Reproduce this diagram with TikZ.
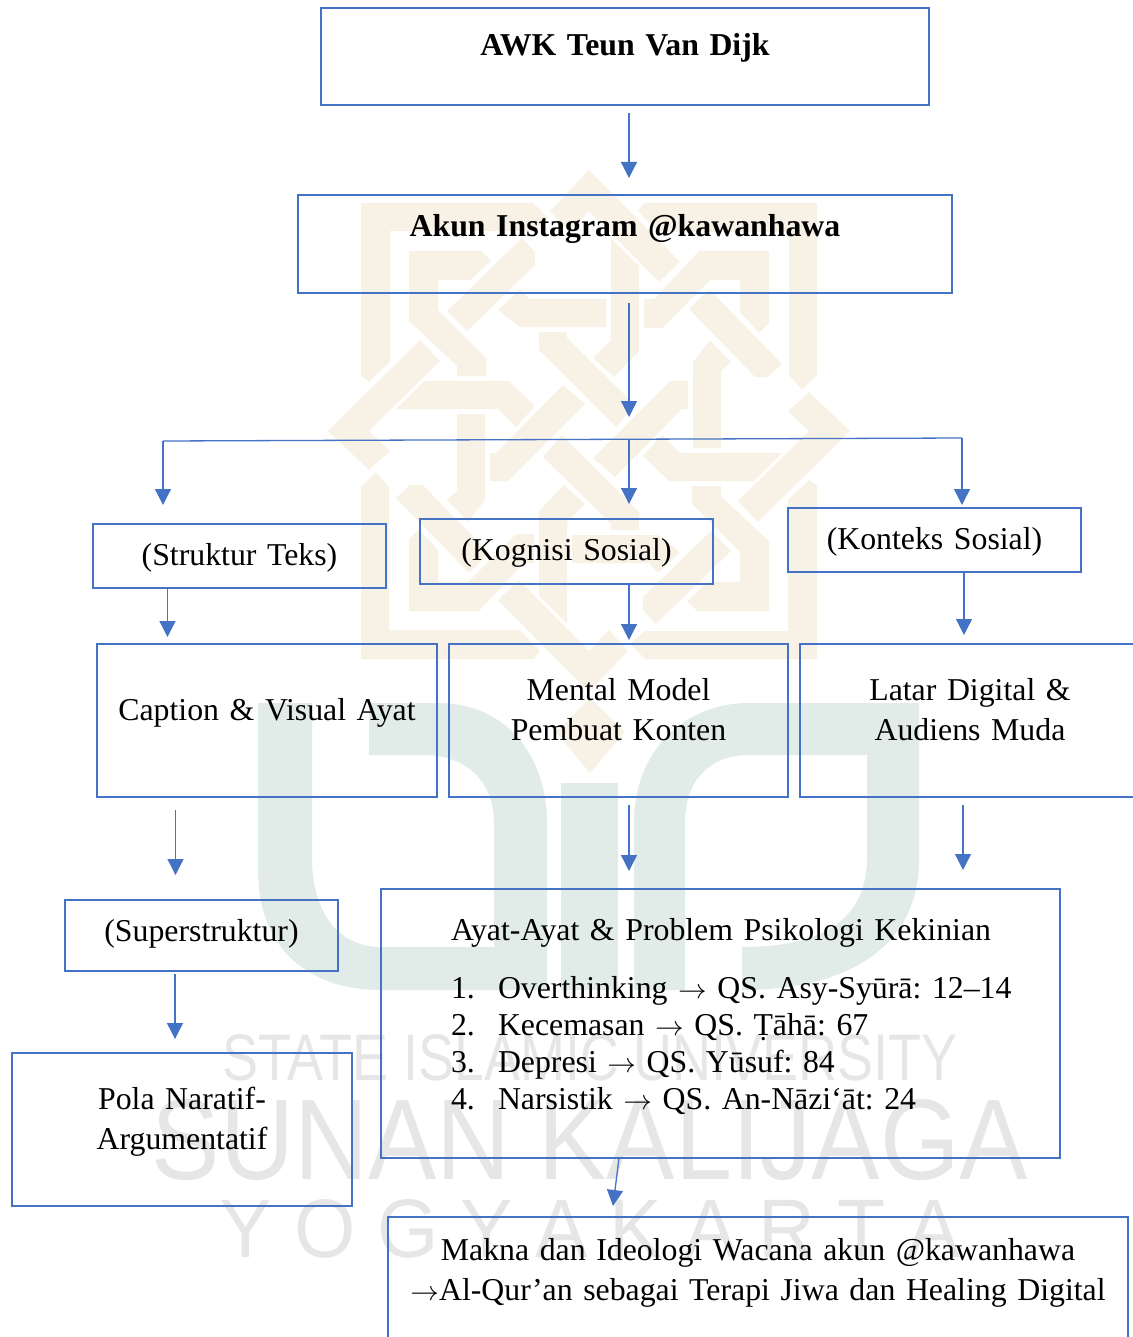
\documentclass[tikz,border=0pt]{standalone}
\usepackage{fontspec}
\usepackage{graphicx}
\setmainfont{Liberation Serif}[WordSpace=0.78]
\newfontfamily\wmfont{Liberation Sans}
\frenchspacing
\usetikzlibrary{arrows.meta}
\definecolor{boxblue}{HTML}{4472C4}
\definecolor{ornament}{HTML}{F8F2E6}
\definecolor{uingreen}{HTML}{E1EBE7}
\definecolor{wmgrey}{HTML}{E6E6E6}
\tikzset{
	flowbox/.style n args={3}{draw=boxblue,line width=2.8pt,inner sep=0pt,outer sep=0pt,anchor=north west,
		text width=#1,text height=#3,text depth=#2-#3,align=center,
		font=\fontsize{31.8}{40}\selectfont},
	flow/.style={draw=boxblue,line width=1.3pt,-{Triangle[width=16pt,length=16pt,fill=boxblue]}},
	hubline/.style={draw=boxblue,line width=1.3pt},
	wmtext/.style={text=wmgrey,inner sep=0pt,font=\wmfont}
}
\newcommand{\ayatitem}[2]{\hspace*{70pt}\makebox[47pt][l]{#1}#2}
\newcommand{\toarrow}{\scalebox{1.15}[1.1]{$\rightarrow$}}
\begin{document}
\begin{tikzpicture}[x=1pt,y=-1pt]
	\useasboundingbox (0,0) rectangle (1132,1337);
	% watermark
	\foreach \ang in {0,90,180,270} {
		\begin{scope}[shift={(589,431)},rotate=\ang]
			\fill[ornament] (0,-261) -- (91,-169) -- (70,-149) -- (0,-220) -- (-20,-199) -- (-39,-220) -- cycle;
			\fill[ornament] (22,-193) -- (50,-165) -- (50,-80) -- (25,-54) -- (4,-73) -- (22,-91) -- cycle;
			\fill[ornament] (-228,-228) -- (-56,-228) -- (-41,-213) -- (-56,-200) -- (-199,-200) -- (-199,-69) -- (-220,-49) -- (-228,-55) -- cycle;
			\fill[ornament] (-180,-180) -- (-108,-180) -- (-98,-170) -- (-119,-151) -- (-151,-151) -- (-151,-121) -- (-103,-73) -- (-103,-55) -- (-132,-55) -- (-132,-65) -- (-180,-110) -- cycle;
			\fill[ornament] (-142,-120) -- (-67,-193) -- (-54,-179) -- (-54,-166) -- (-122,-100) -- cycle;
			\fill[ornament] (-91,-121) -- (-69,-142) -- (-60,-132) -- (17,-132) -- (17,-104) -- (-69,-104) -- cycle;
			\fill[ornament] (-50,-99) -- (-22,-99) -- (-22,-93) -- (46,-26) -- (27,-4) -- (-50,-81) -- cycle;
		\end{scope}
	}
	\fill[ornament] (590,698) -- (625,732) -- (590,773) -- (556,732) -- cycle;
	\fill[uingreen] (369,703) -- (437,703) .. controls (510,703) and (547,760) .. (547,823) -- (547,990) -- (381,990)
		.. controls (310,990) and (258,950) .. (258,870) -- (258,703) -- (312,703) -- (312,857)
		.. controls (312,915) and (340,947) .. (381,947) -- (494,947) -- (494,823)
		.. controls (494,780) and (465,755) .. (423,755) -- (369,755) -- cycle;
	\fill[uingreen] (561,783) -- (618,783) -- (618,990) -- (561,990) -- cycle;
	\fill[uingreen] (634,990) -- (634,823) .. controls (634,750) and (685,703) .. (749,703) -- (919,703) -- (919,860)
		.. controls (919,945) and (850,990) .. (742,990) -- (742,947) .. controls (830,947) and (867,915) .. (867,857)
		-- (867,755) -- (749,755) .. controls (710,755) and (685,780) .. (685,823) -- (685,990) -- cycle;
	\node[wmtext] (wmstate) at (590,1058) {\resizebox{735pt}{46pt}{STATE ISLAMIC UNIVERSITY}};
	\node[wmtext] (wmsunan) at (590,1140) {\resizebox{876pt}{80pt}{SUNAN KALIJAGA}};
	\node[wmtext] (wmyogya) at (590,1229) {\resizebox{740pt}{58pt}{Y O G Y A K A R T A}};

	% boxes
	\node[flowbox={608pt}{97pt}{48pt}] (awk) at (321,8) {\textbf{AWK Teun Van Dijk}};
	\node[flowbox={654pt}{98pt}{42pt}] (akun) at (298,195) {\textbf{Akun Instagram @kawanhawa}};
	\node[flowbox={293pt}{64pt}{41pt}] (struktur) at (93,524) {(Struktur Teks)};
	\node[flowbox={293pt}{65pt}{41pt}] (kognisi) at (420,519) {(Kognisi Sosial)};
	\node[flowbox={293pt}{64pt}{41pt}] (konteks) at (788,508) {(Konteks Sosial)};
	\node[flowbox={340pt}{153pt}{76pt}] (caption) at (97,644) {Caption \& Visual Ayat};
	\node[flowbox={339pt}{153pt}{56pt}] (mental) at (449,644) {Mental Model\\Pembuat Konten};
	\node[flowbox={340pt}{153pt}{56pt}] (latar) at (800,644) {Latar Digital \&\\Audiens Muda};
	\node[flowbox={273pt}{71pt}{41pt}] (super) at (65,900) {(Superstruktur)};
	\node[flowbox={679pt}{269pt}{51pt},align=left] (ayat) at (381,889) {\hspace*{70pt}Ayat-Ayat \& Problem Psikologi Kekinian\\[18pt]
		\ayatitem{1.}{Overthinking \toarrow{} QS. Asy-Syūrā: 12–14}\\[-3pt]
		\ayatitem{2.}{Kecemasan \toarrow{} QS. Ṭāhā: 67}\\[-3pt]
		\ayatitem{3.}{Depresi \toarrow{} QS. Yūsuf: 84}\\[-3pt]
		\ayatitem{4.}{Narsistik \toarrow{} QS. An-Nāzi‘āt: 24}};
	\node[flowbox={340pt}{153pt}{56pt}] (pola) at (12,1053) {Pola Naratif-\\Argumentatif};
	\node[flowbox={740pt}{130pt}{43pt}] (makna) at (388,1217) {Makna dan Ideologi Wacana akun @kawanhawa\\\toarrow{}Al-Qur’an sebagai Terapi Jiwa dan Healing Digital};

	% connectors
	\coordinate (hubL) at (163,441);
	\coordinate (hubM) at (629,440);
	\coordinate (hubR) at (962,438);
	\draw[flow] ([xshift=4pt,yshift=-8pt]awk.south) -- ([xshift=4pt,yshift=17pt]akun.north);
	\draw[flow] ([xshift=4pt,yshift=-10pt]akun.south) -- ([yshift=23pt]hubM);
	\draw[hubline] (hubL) -- (hubR);
	\draw[flow,shorten >=19pt] (hubL) -- (hubL |- struktur.north);
	\draw[flow,shorten >=15pt] (hubM) -- (hubM |- kognisi.north);
	\draw[flow,shorten >=3pt] (hubR) -- (hubR |- konteks.north);
	\draw[flow] ([xshift=-72pt,yshift=-1pt]struktur.south) -- ([xshift=-99.5pt,yshift=7pt]caption.north);
	\draw[flow] ([xshift=62.5pt]kognisi.south) -- ([xshift=10.5pt,yshift=4pt]mental.north);
	\draw[flow] ([xshift=29.5pt,yshift=-1pt]konteks.south) -- ([xshift=-6pt,yshift=9pt]latar.north);
	\draw[flow] ([xshift=-91.5pt,yshift=-13pt]caption.south) -- ([xshift=-26pt,yshift=25pt]super.north);
	\draw[flow] ([xshift=10.5pt,yshift=-8pt]mental.south) -- ([xshift=-91.5pt,yshift=18pt]ayat.north);
	\draw[flow] ([xshift=-7pt,yshift=-8pt]latar.south) -- ([xshift=242.5pt,yshift=19pt]ayat.north);
	\draw[flow] ([xshift=-26.5pt,yshift=-3pt]super.south) -- ([xshift=-7pt,yshift=14pt]pola.north);
	\draw[flow] ([xshift=-101.5pt]ayat.south) -- ([xshift=-145pt,yshift=11pt]makna.north);
\end{tikzpicture}
\end{document}
